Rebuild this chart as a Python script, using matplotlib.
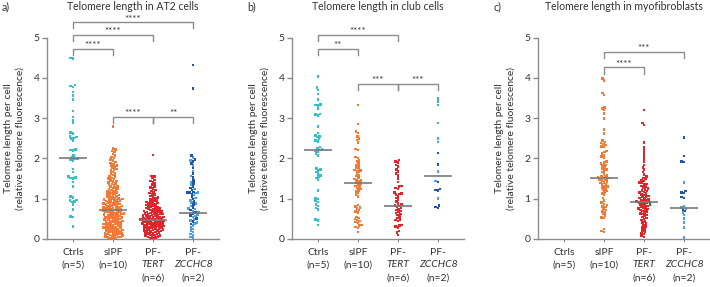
import numpy as np
import matplotlib
matplotlib.use("Agg")
import matplotlib.pyplot as plt

plt.rcParams['font.family'] = ['Lato', 'DejaVu Sans']

# ---------------- data ----------------
groups = ["Ctrls", "sIPF", "PF-TERT", "PF-ZCCHC8"]
group_n = ["(n=5)", "(n=10)", "(n=6)", "(n=2)"]
titles = ["Telomere length in AT2 cells", "Telomere length in club cells",
          "Telomere length in myofibroblasts"]
panel_tags = ["a)", "b)", "c)"]
yticks = [0, 1, 2, 3, 4, 5]

# Panel a: AT2 cells
a_ctrls = [4.50, 4.48, 3.82, 3.80, 3.78, 3.65, 3.57, 3.47, 3.18, 3.03, 2.95, 2.88, 2.64, 2.62,
           2.55, 2.53, 2.51, 2.50, 2.45, 2.23, 2.21, 2.20, 2.08, 2.02, 2.00, 1.99, 1.98, 1.95,
           1.74, 1.66, 1.55, 1.53, 1.52, 1.50, 1.42, 1.31, 1.05, 1.03, 0.97, 0.95, 0.93, 0.92,
           0.86, 0.73, 0.56, 0.55, 0.31]
a_sipf = [2.79, 2.25, 2.22, 2.19, 2.16, 2.11, 2.07, 2.04, 2.01, 1.97, 1.95, 1.91, 1.89, 1.86,
          1.83, 1.83, 1.80, 1.77, 1.74, 1.72, 1.70, 1.66, 1.63, 1.62, 1.59, 1.56, 1.55, 1.52,
          1.50, 1.49, 1.46, 1.44, 1.43, 1.41, 1.38, 1.37, 1.35, 1.33, 1.32, 1.30, 1.28, 1.27,
          1.25, 1.24, 1.22, 1.21, 1.19, 1.18, 1.17, 1.15, 1.14, 1.13, 1.11, 1.10, 1.09, 1.08,
          1.06, 1.05, 1.04, 1.02, 1.01, 1.00, 0.99, 0.98, 0.98, 0.97, 0.96, 0.95, 0.94, 0.93,
          0.92, 0.91, 0.90, 0.89, 0.88, 0.87, 0.86, 0.86, 0.85, 0.84, 0.83, 0.82, 0.81, 0.80,
          0.79, 0.78, 0.78, 0.77, 0.76, 0.75, 0.74, 0.74, 0.73, 0.72, 0.71, 0.70, 0.69, 0.69,
          0.68, 0.67, 0.66, 0.65, 0.64, 0.63, 0.62, 0.61, 0.61, 0.60, 0.59, 0.58, 0.57, 0.56,
          0.55, 0.54, 0.53, 0.53, 0.52, 0.51, 0.50, 0.49, 0.48, 0.47, 0.46, 0.45, 0.45, 0.44,
          0.43, 0.42, 0.41, 0.40, 0.39, 0.38, 0.37, 0.37, 0.36, 0.35, 0.34, 0.33, 0.32, 0.31,
          0.30, 0.29, 0.29, 0.28, 0.27, 0.26, 0.25, 0.24, 0.23, 0.22, 0.21, 0.21, 0.20, 0.19,
          0.18, 0.17, 0.16, 0.15, 0.14, 0.13, 0.13, 0.12, 0.11, 0.10, 0.09, 0.08, 0.07, 0.06,
          0.05, 0.05, 0.04, 0.03, 0.02, 0.01]
a_tert = [2.09, 1.57, 1.55, 1.51, 1.47, 1.44, 1.42, 1.38, 1.35, 1.31, 1.28, 1.26, 1.22, 1.19,
          1.17, 1.14, 1.12, 1.10, 1.07, 1.05, 1.03, 1.01, 0.99, 0.98, 0.96, 0.95, 0.93, 0.92,
          0.90, 0.89, 0.88, 0.86, 0.85, 0.84, 0.83, 0.81, 0.80, 0.79, 0.78, 0.77, 0.76, 0.75,
          0.74, 0.73, 0.72, 0.71, 0.70, 0.69, 0.68, 0.68, 0.67, 0.66, 0.65, 0.64, 0.63, 0.62,
          0.62, 0.61, 0.60, 0.59, 0.58, 0.58, 0.57, 0.56, 0.55, 0.55, 0.54, 0.53, 0.52, 0.52,
          0.51, 0.50, 0.50, 0.49, 0.48, 0.48, 0.47, 0.47, 0.46, 0.45, 0.45, 0.44, 0.43, 0.43,
          0.42, 0.41, 0.41, 0.40, 0.39, 0.39, 0.38, 0.37, 0.36, 0.36, 0.35, 0.34, 0.33, 0.33,
          0.32, 0.31, 0.30, 0.30, 0.29, 0.28, 0.27, 0.26, 0.26, 0.25, 0.24, 0.23, 0.22, 0.21,
          0.21, 0.20, 0.19, 0.18, 0.17, 0.16, 0.15, 0.14, 0.13, 0.12, 0.11, 0.10, 0.09, 0.08,
          0.07, 0.06, 0.05, 0.04, 0.03, 0.02]
a_zc_dark = [4.32, 3.74, 2.07, 1.97, 1.93, 1.88, 1.76, 1.62, 1.53, 1.46, 1.38, 1.31, 1.27, 1.22,
             1.17, 1.16, 1.15, 1.12, 1.05, 0.99, 0.93, 0.85, 0.78, 0.72, 0.66, 0.63, 0.58, 0.51,
             0.43, 0.37]
a_zc_light = [2.02, 1.95, 1.83, 1.69, 1.57, 1.42, 1.35, 1.24, 1.16, 1.14, 1.09, 1.02, 0.96, 0.90,
              0.88, 0.82, 0.76, 0.74, 0.70, 0.67, 0.64, 0.61, 0.57, 0.55, 0.49, 0.46, 0.41, 0.38,
              0.33, 0.29, 0.25, 0.21, 0.17, 0.12, 0.09, 0.05, 0.02]
a_medians = [2.00, 0.73, 0.47, 0.64]

# Panel b: club cells
b_ctrls = [4.03, 3.76, 3.70, 3.60, 3.47, 3.34, 3.33, 3.31, 3.24, 3.11, 3.09, 3.07, 2.80, 2.63,
           2.57, 2.55, 2.53, 2.48, 2.45, 2.42, 2.28, 2.25, 2.23, 2.21, 2.19, 2.16, 2.12, 2.08,
           1.75, 1.72, 1.70, 1.66, 1.62, 1.58, 1.55, 1.52, 1.48, 1.20, 1.02, 0.99, 0.95, 0.92,
           0.86, 0.82, 0.77, 0.73, 0.48, 0.46, 0.35]
b_sipf = [3.33, 2.86, 2.67, 2.63, 2.55, 2.50, 2.46, 2.40, 2.24, 2.21, 2.04, 2.01, 1.95, 1.92,
          1.87, 1.83, 1.80, 1.76, 1.73, 1.71, 1.70, 1.69, 1.66, 1.62, 1.58, 1.56, 1.52, 1.49,
          1.47, 1.45, 1.43, 1.40, 1.38, 1.35, 1.32, 1.30, 1.27, 1.24, 1.21, 1.18, 1.14, 1.10,
          1.06, 0.84, 0.81, 0.78, 0.76, 0.72, 0.68, 0.66, 0.55, 0.52, 0.50, 0.47, 0.45, 0.42,
          0.40, 0.35, 0.33, 0.30, 0.27, 0.17]
b_tert = [1.96, 1.93, 1.90, 1.84, 1.80, 1.73, 1.68, 1.62, 1.58, 1.50, 1.42, 1.32, 1.30, 1.27,
          1.24, 1.15, 1.13, 1.12, 1.10, 1.06, 1.02, 0.98, 0.93, 0.88, 0.85, 0.83, 0.82, 0.80,
          0.77, 0.75, 0.72, 0.70, 0.68, 0.65, 0.62, 0.60, 0.56, 0.52, 0.49, 0.47, 0.45, 0.35,
          0.33, 0.31, 0.28, 0.20, 0.16, 0.10]
b_zc_dark = [2.14, 1.85, 1.42, 1.24, 1.22, 1.20, 0.83, 0.80, 0.77]
b_zc_light = [3.49, 3.41, 3.33, 2.88, 2.49, 2.41, 1.68, 1.44, 1.01]
b_medians = [2.20, 1.40, 0.82, 1.56]

# Panel c: myofibroblasts
c_ctrls = []
c_sipf = [3.99, 3.94, 3.63, 3.58, 3.27, 3.24, 3.20, 3.12, 3.00, 2.72, 2.62, 2.44, 2.41, 2.38,
          2.36, 2.33, 2.30, 2.28, 2.19, 2.16, 2.13, 2.09, 2.05, 2.02, 1.93, 1.90, 1.87, 1.84,
          1.82, 1.78, 1.75, 1.72, 1.70, 1.66, 1.62, 1.58, 1.56, 1.55, 1.53, 1.52, 1.51, 1.50,
          1.48, 1.47, 1.45, 1.43, 1.41, 1.39, 1.37, 1.35, 1.32, 1.30, 1.28, 1.25, 1.22, 1.19,
          1.16, 1.13, 1.09, 1.02, 0.96, 0.90, 0.87, 0.84, 0.81, 0.79, 0.75, 0.72, 0.69, 0.66,
          0.62, 0.58, 0.54, 0.52, 0.25, 0.20, 0.17]
c_tert = [3.20, 2.88, 2.83, 2.40, 2.27, 2.20, 2.13, 2.05, 1.98, 1.91, 1.84, 1.78, 1.72, 1.66,
          1.60, 1.55, 1.52, 1.49, 1.46, 1.44, 1.41, 1.39, 1.37, 1.35, 1.32, 1.30, 1.28, 1.25,
          1.23, 1.21, 1.19, 1.17, 1.15, 1.13, 1.11, 1.09, 1.07, 1.05, 1.04, 1.02, 1.00, 0.98,
          0.97, 0.95, 0.94, 0.93, 0.92, 0.91, 0.90, 0.89, 0.88, 0.86, 0.85, 0.84, 0.82, 0.81,
          0.79, 0.78, 0.76, 0.75, 0.73, 0.72, 0.70, 0.68, 0.66, 0.64, 0.62, 0.60, 0.58, 0.55,
          0.52, 0.50, 0.47, 0.44, 0.41, 0.38, 0.35, 0.31, 0.28, 0.25, 0.21, 0.18, 0.15, 0.12,
          0.08, 0.05]
c_zc_dark = [2.52, 2.06, 1.92, 1.91, 1.19, 1.16, 1.14, 1.04, 1.02, 0.73, 0.70]
c_zc_light = [1.40, 0.82, 0.78, 0.76, 0.66, 0.60, 0.51, 0.41, 0.28, 0.04]
c_medians = [None, 1.52, 0.92, 0.76]

# significance brackets: (group i, group j, height, label)
a_brackets = [(0, 1, 4.72, "****"), (0, 2, 5.07, "****"), (0, 3, 5.38, "****"),
              (1, 2, 3.03, "****"), (2, 3, 3.03, "**")]
b_brackets = [(0, 1, 4.72, "**"), (0, 2, 5.06, "****"),
              (1, 2, 3.85, "***"), (2, 3, 3.85, "***")]
c_brackets = [(1, 2, 4.26, "****"), (1, 3, 4.64, "***")]

# ---------------- style ----------------
C_CTRL = "#35bfc9"
C_SIPF = "#f27a36"
C_TERT = "#e0252d"
C_ZC_L = "#4aa3e0"
C_ZC_D = "#2156a6"
GRAY = "#8c8c8c"
TXT = "#333333"

W, H = 710, 287
fig = plt.figure(figsize=(W / 100, H / 100), dpi=100)

panels = [
    dict(series=[(0, a_ctrls, C_CTRL), (1, a_sipf, C_SIPF), (2, a_tert, C_TERT),
                 (3, a_zc_light, C_ZC_L), (3, a_zc_dark, C_ZC_D)],
         med=a_medians, br=a_brackets, left=47),
    dict(series=[(0, b_ctrls, C_CTRL), (1, b_sipf, C_SIPF), (2, b_tert, C_TERT),
                 (3, b_zc_light, C_ZC_L), (3, b_zc_dark, C_ZC_D)],
         med=b_medians, br=b_brackets, left=292),
    dict(series=[(0, c_ctrls, C_CTRL), (1, c_sipf, C_SIPF), (2, c_tert, C_TERT),
                 (3, c_zc_light, C_ZC_L), (3, c_zc_dark, C_ZC_D)],
         med=c_medians, br=c_brackets, left=538),
]

AX_W = 172
Y0, Y5 = 239, 37.7
XMIN, XMAX = -0.65, 3.65


def swarm(vals, d):
    """Beeswarm offsets: place each point nearest the centre without overlap."""
    order = np.argsort(vals)
    placed = []
    offs = np.zeros(len(vals))
    for i in order:
        y = vals[i]
        near = [(px, py) for px, py in placed if abs(py - y) < d]
        cands = [0.0]
        for px, py in near:
            dx = np.sqrt(d * d - (py - y) ** 2)
            cands += [px + dx, px - dx]
        cands.sort(key=lambda c: (abs(c), c))
        for c in cands:
            if all((c - px) ** 2 + (y - py) ** 2 >= d * d - 1e-9 for px, py in near):
                offs[i] = c
                placed.append((c, y))
                break
    return offs


for k, p in enumerate(panels):
    ax = fig.add_axes([p["left"] / W, (H - Y0) / H, AX_W / W, (Y0 - Y5) / H])
    ax.set_xlim(XMIN, XMAX)
    ax.set_ylim(0, 5)
    for s in ["top", "right"]:
        ax.spines[s].set_visible(False)
    for s in ["left", "bottom"]:
        ax.spines[s].set_color(GRAY)
        ax.spines[s].set_linewidth(1.0)
    ax.set_yticks(yticks)
    ax.tick_params(axis="y", colors=GRAY, labelcolor=TXT, labelsize=7.5, length=3.5, width=1.0,
                   pad=2)
    ax.set_xticks(range(4))
    ax.tick_params(axis="x", colors=GRAY, length=2.5, width=0.8, labelbottom=False)

    for cat in range(4):
        ser = [(v, col) for (g, vals, col) in p["series"] if g == cat for v in vals]
        if not ser:
            continue
        vals = np.array([s[0] for s in ser])
        cols = [s[1] for s in ser]
        offs = swarm(vals, 0.064)
        ax.scatter(cat + offs, vals, s=3.4, c=cols, marker="s", linewidths=0, zorder=3,
                   clip_on=False)

    for cat, m in enumerate(p["med"]):
        if m is None:
            continue
        ax.plot([cat - 0.34, cat + 0.34], [m, m], color="#7a7a7a", lw=1.2, zorder=4,
                solid_capstyle="butt")

    for (i, j, h, lab) in p["br"]:
        dh = 0.15
        ax.plot([i, i, j, j], [h - dh, h, h, h - dh], color=GRAY, lw=1.0, clip_on=False,
                zorder=2, solid_joinstyle="miter")
        ax.text((i + j) / 2, h + 0.02, lab, ha="center", va="baseline", fontsize=7,
                color=TXT, clip_on=False)

    for cat in range(4):
        if cat < 2:
            lines = [(groups[cat], "normal"), (group_n[cat], "normal")]
        else:
            gene = groups[cat].split("-")[1]
            lines = [("PF-", "normal"), (gene, "italic"), (group_n[cat], "normal")]
        for li, (t, st) in enumerate(lines):
            ax.annotate(t, xy=(cat, 0), xycoords="data", xytext=(0, -9.5 - li * 9.2),
                        textcoords="offset points", ha="center", va="center", fontsize=7.5,
                        style=st, color=TXT, annotation_clip=False)

    axl = p["left"]
    fig.text((axl - 38) / W, (H - (Y0 + Y5) / 2) / H, "Telomere length per cell",
             rotation=90, ha="center", va="center", fontsize=7.5, color=TXT)
    fig.text((axl - 27) / W, (H - (Y0 + Y5) / 2) / H, "(relative telomere fluorescence)",
             rotation=90, ha="center", va="center", fontsize=7.5, color=TXT)

    fig.text((axl + AX_W / 2) / W, 1 - 6.5 / H, titles[k], ha="center", va="center",
             fontsize=7.6, color=TXT)
    fig.text((2 + 245.5 * k) / W, 1 - 6.5 / H, panel_tags[k], ha="left", va="center",
             fontsize=7.6, color=TXT)

fig.savefig("out.png", dpi=100)
